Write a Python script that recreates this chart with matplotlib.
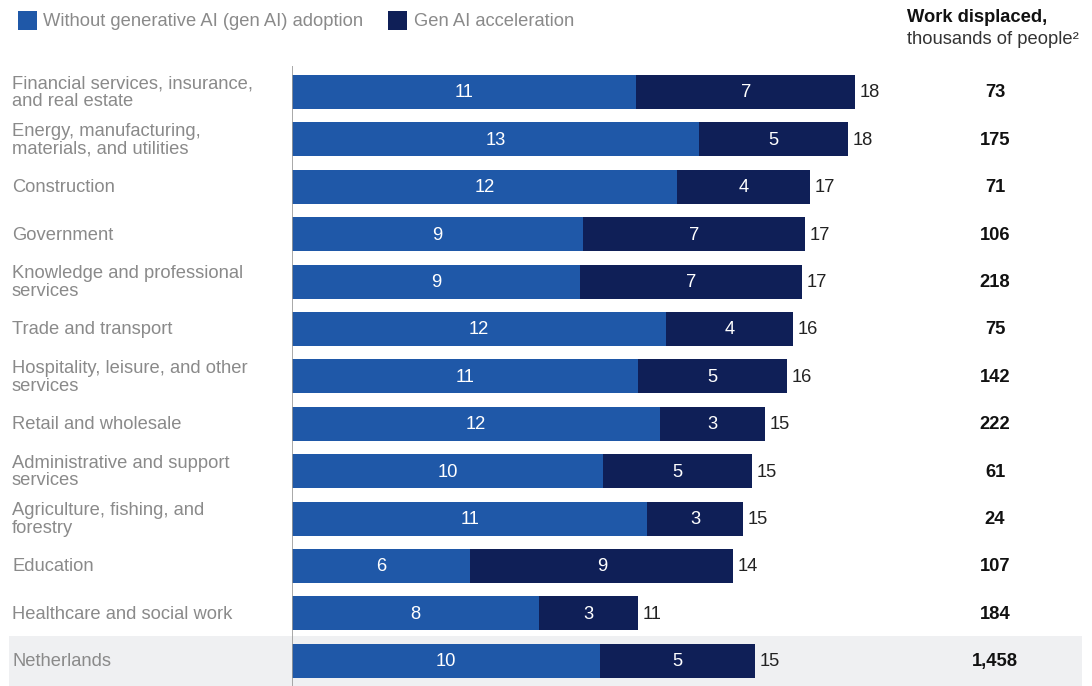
import matplotlib.pyplot as plt
import matplotlib.transforms as mtransforms
from matplotlib.patches import Rectangle

plt.rcParams['font.family'] = ['Liberation Sans', 'DejaVu Sans']

categories = [
    "Financial services, insurance,\nand real estate",
    "Energy, manufacturing,\nmaterials, and utilities",
    "Construction",
    "Government",
    "Knowledge and professional\nservices",
    "Trade and transport",
    "Hospitality, leisure, and other\nservices",
    "Retail and wholesale",
    "Administrative and support\nservices",
    "Agriculture, fishing, and\nforestry",
    "Education",
    "Healthcare and social work",
    "Netherlands",
]
# bar lengths and printed labels
without_ai = [11.0, 13.0, 12.3, 9.3, 9.2, 11.95, 11.05, 11.75, 9.95, 11.35, 5.7, 7.9, 9.85]
gen_ai = [7.0, 4.75, 4.25, 7.1, 7.1, 4.05, 4.75, 3.35, 4.75, 3.05, 8.4, 3.15, 4.95]
without_lbl = [11, 13, 12, 9, 9, 12, 11, 12, 10, 11, 6, 8, 10]
gen_lbl = [7, 5, 4, 7, 7, 4, 5, 3, 5, 3, 9, 3, 5]
total_lbl = [18, 18, 17, 17, 17, 16, 16, 15, 15, 15, 14, 11, 15]
displaced = ["73", "175", "71", "106", "218", "75", "142", "222", "61", "24", "107", "184", "1,458"]

blue = "#1f58a8"
navy = "#0f1f57"
gray_txt = "#8a8a8a"
fs = 13.2

W, H = 1092, 686
fig = plt.figure(figsize=(W / 100, H / 100), dpi=100)
ax = fig.add_axes([292 / W, 0, (1082 - 292) / W, (686 - 66) / H])
pitch = 47.4
ax.set_xlim(0, 790 / 31.3)
ax.set_ylim((686 - 92) / pitch, -26 / pitch)
ax.axis("off")

ys = list(range(len(categories)))
ax.barh(ys, without_ai, height=0.72, color=blue, zorder=2)
ax.barh(ys, gen_ai, left=without_ai, height=0.72, color=navy, zorder=2)
ax.axvline(0, color="#999999", lw=1.2, zorder=3)

tr = mtransforms.blended_transform_factory(fig.transFigure, ax.transData)

# highlight band for total row
band = Rectangle((9 / W, 11.48), (1082 - 9) / W, 2, transform=tr,
                 facecolor="#eff0f2", edgecolor="none", zorder=0, clip_on=False)
ax.add_patch(band)

for i in ys:
    a, b = without_ai[i], gen_ai[i]
    ax.text(a / 2, i + 0.02, str(without_lbl[i]), color="white", ha="center", va="center", fontsize=fs, zorder=4)
    ax.text(a + b / 2, i + 0.02, str(gen_lbl[i]), color="white", ha="center", va="center", fontsize=fs, zorder=4)
    ax.text(a + b + 0.15, i + 0.02, str(total_lbl[i]), color="#222222", ha="left", va="center", fontsize=fs)
    ax.text(12 / W, i + 0.02, categories[i], transform=tr, color=gray_txt, ha="left", va="center",
            fontsize=fs, linespacing=1.05)
    ax.text(995 / W, i + 0.02, displaced[i], transform=tr, color="#111111", ha="center", va="center",
            fontsize=fs, fontweight="bold")

# header for right column
fig.text(907 / W, 1 - 18 / H, "Work displaced,", fontsize=fs, fontweight="bold", color="#111111", va="center")
fig.text(907 / W, 1 - 40 / H, "thousands of people²", fontsize=fs, color="#333333", va="center")

# legend
fig.patches.append(Rectangle((18 / W, 1 - 30 / H), 19 / W, 19 / H, transform=fig.transFigure,
                             facecolor=blue, edgecolor="none"))
fig.text(43 / W, 1 - 21 / H, "Without generative AI (gen AI) adoption", fontsize=fs, color=gray_txt, va="center")
fig.patches.append(Rectangle((388 / W, 1 - 30 / H), 19 / W, 19 / H, transform=fig.transFigure,
                             facecolor=navy, edgecolor="none"))
fig.text(414 / W, 1 - 21 / H, "Gen AI acceleration", fontsize=fs, color=gray_txt, va="center")

fig.savefig("out.png", dpi=100)
